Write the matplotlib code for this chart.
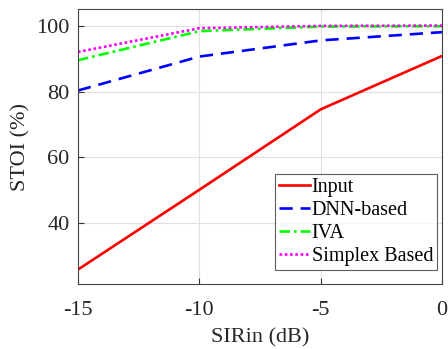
import matplotlib
matplotlib.use("Agg")
import matplotlib.pyplot as plt

# SIR of the input mixture (dB)
sir_in = [-15, -10, -5, 0]

# STOI (%) per method
stoi_input = [26, 50.2, 74.6, 90.8]
stoi_dnn = [80.3, 90.6, 95.5, 98.0]
stoi_iva = [89.5, 98.3, 99.7, 99.8]
stoi_simplex = [92.0, 99.2, 99.9, 100.0]

x_ticks = [-15, -10, -5, 0]
y_ticks = [40, 60, 80, 100]

plt.rcParams['font.family'] = ['Liberation Serif', 'DejaVu Serif']
plt.rcParams['mathtext.fontset'] = 'stix'

fig = plt.figure(figsize=(4.48, 3.49), dpi=100)
ax = fig.add_axes([0.174, 0.186, 0.813, 0.788])

ax.plot(sir_in, stoi_input, color='red', linestyle='-', linewidth=1.9, label='Input')
ax.plot(sir_in, stoi_dnn, color='blue', linestyle=(0, (5, 3)), linewidth=1.9, label='DNN-based')
ax.plot(sir_in, stoi_iva, color='#00ff00', linestyle=(0, (4, 1.5, 1, 1.5)), linewidth=1.9, label='IVA')
ax.plot(sir_in, stoi_simplex, color='magenta', linestyle=(0, (1, 1)), linewidth=1.9, label='Simplex Based')

ax.set_xlim(-15, 0)
ax.set_ylim(21.6, 105)
ax.set_xticks(x_ticks)
ax.set_xticklabels([str(t) for t in x_ticks])
ax.set_yticks(y_ticks)
ax.grid(True, color='#e0e0e0', linewidth=0.8)
ax.set_axisbelow(True)
ax.tick_params(direction='in', labelsize=16, length=4, color='#333333', labelcolor='#262626')
ax.tick_params(axis='x', pad=12)
ax.tick_params(axis='y', pad=6)
for s in ax.spines.values():
    s.set_color('#444444')
    s.set_linewidth(0.8)

ax.set_xlabel('SIRin (dB)', fontsize=16, labelpad=6, color='#262626')
ax.set_ylabel('STOI (%)', fontsize=16, color='#262626')

leg = ax.legend(loc='lower right', bbox_to_anchor=(0.986, 0.051), fontsize=14.5,
                frameon=True, fancybox=False, edgecolor='#333333',
                handlelength=1.5, handletextpad=0.1, borderpad=0.2,
                labelspacing=0.2, borderaxespad=0)
leg.get_frame().set_linewidth(0.8)

fig.savefig('out.png', dpi=100)
